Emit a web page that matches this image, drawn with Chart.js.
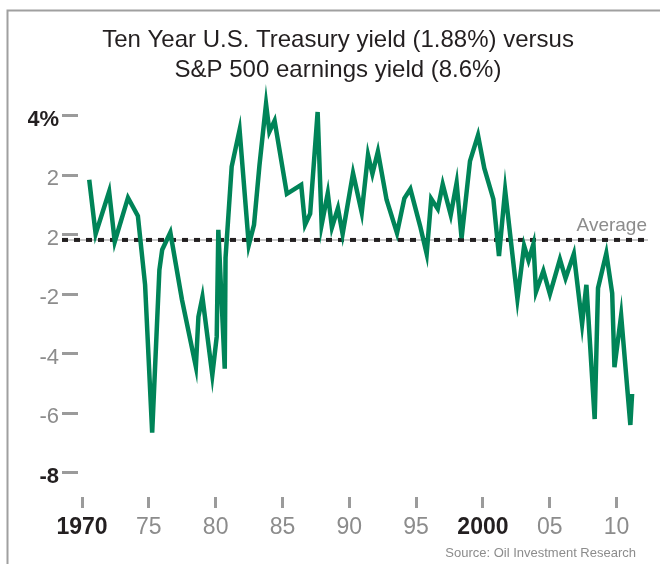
<!DOCTYPE html>
<html>
<head>
<meta charset="utf-8">
<script src="https://cdn.jsdelivr.net/npm/chart.js@4"></script>
<style>
  body { margin: 0; background: #fff; }
  #wrap { width: 660px; height: 564px; }
</style>
</head>
<body>
<div id="wrap"><canvas id="spreadCanvas" width="660" height="564"></canvas></div>
<script>
// earnings yield minus treasury yield
const years = [
  1970.54, 1971.02, 1972.03, 1972.45, 1973.44, 1974.18, 1974.72, 1975.25, 1975.79, 1976.00,
  1976.61, 1977.48, 1978.52, 1978.71, 1979.01, 1979.75, 1980.08, 1980.20, 1980.68, 1980.74,
  1981.20, 1981.79, 1982.48, 1982.87, 1983.28, 1983.77, 1984.02, 1984.41, 1985.33, 1986.40,
  1986.69, 1987.07, 1987.63, 1987.93, 1988.39, 1988.70, 1989.15, 1989.50, 1990.28, 1990.93,
  1991.40, 1991.73, 1992.14, 1992.79, 1993.57, 1994.12, 1994.57, 1995.31, 1995.79, 1996.13,
  1996.62, 1996.99, 1997.59, 1998.03, 1998.40, 1999.03, 1999.63, 2000.10, 2000.78, 2001.20,
  2001.66, 2002.58, 2003.08, 2003.41, 2003.78, 2003.97, 2004.52, 2005.01, 2005.76, 2006.18,
  2006.80, 2007.42, 2007.74, 2008.36, 2008.61, 2009.23, 2009.67, 2009.84, 2010.34, 2011.03,
  2011.16
];
const spread = [
  1.85, 0.03, 1.46, -0.23, 1.25, 0.64, -1.68, -6.65, -1.18, -0.50,
  0.08, -2.18, -4.43, -2.75, -2.09, -4.71, -3.42, 0.17, -4.50, -0.77,
  2.30, 3.53, -0.34, 0.34, 2.35, 4.40, 3.47, 3.84, 1.38, 1.68,
  0.34, 0.71, 4.13, 0.34, 1.40, 0.25, 0.90, 0.03, 2.07, 0.75,
  2.69, 2.05, 2.80, 1.18, 0.06, 1.23, 1.54, 0.28, -0.64, 1.21,
  0.87, 1.70, 0.67, 1.75, -0.11, 2.48, 3.35, 2.24, 1.20, -0.71,
  1.50, -2.15, -0.37, -0.86, -0.30, -1.91, -1.21, -1.99, -0.82, -1.46,
  -0.64, -2.99, -1.68, -6.19, -1.79, -0.62, -1.96, -4.45, -2.71, -6.39,
  -5.34
];
const averageValue = -0.17;

const xTicks = [1970, 1975, 1980, 1985, 1990, 1995, 2000, 2005, 2010];
const xLabels = ['1970', '75', '80', '85', '90', '95', '2000', '05', '10'];
const boldX = ['1970', '2000'];

const yTicks = [-8, -6, -4, -2, 0, 2, 4];
const yLabels = ['-8', '-6', '-4', '-2', '2', '2', '4%'];
const boldY = ['-8', '4%'];

const FONT = '"Liberation Sans", Arial, Helvetica, sans-serif';
const GREEN = 'rgb(0, 132, 88)';
const TICK_GREY = '#9b9b9b';
const LABEL_GREY = '#8c8c8c';
const DARK = '#231f20';

const extras = {
  id: 'extras',
  beforeDatasetsDraw(chart) {
    const ctx = chart.ctx;
    const y = chart.scales.y.getPixelForValue(averageValue);
    const left = chart.chartArea.left - 16;
    const right = chart.chartArea.right;
    ctx.save();
    ctx.strokeStyle = '#b5b5b5';
    ctx.lineWidth = 1.5;
    ctx.beginPath();
    ctx.moveTo(left, y);
    ctx.lineTo(right, y);
    ctx.stroke();
    ctx.strokeStyle = DARK;
    ctx.lineWidth = 4;
    ctx.setLineDash([6, 6]);
    ctx.beginPath();
    ctx.moveTo(left, y);
    ctx.lineTo(right, y);
    ctx.stroke();
    ctx.setLineDash([]);
    ctx.fillStyle = LABEL_GREY;
    ctx.font = '19px ' + FONT;
    ctx.textAlign = 'right';
    ctx.textBaseline = 'alphabetic';
    ctx.fillText('Average', right - 1, y - 9);
    ctx.restore();
  },
  afterDraw(chart) {
    const ctx = chart.ctx;
    ctx.save();
    // frame at top and left
    ctx.strokeStyle = '#a0a0a0';
    ctx.lineWidth = 2;
    ctx.beginPath();
    ctx.moveTo(660, 10.5);
    ctx.lineTo(7.5, 10.5);
    ctx.lineTo(7.5, 564);
    ctx.stroke();
    ctx.fillStyle = LABEL_GREY;
    ctx.font = '13px ' + FONT;
    ctx.textAlign = 'right';
    ctx.textBaseline = 'middle';
    ctx.fillText('Source: Oil Investment Research', 636, 553);
    ctx.restore();
  }
};

const data = {
  datasets: [{
    label: 'Spread',
    data: years.map((yr, i) => ({ x: yr, y: spread[i] })),
    borderColor: GREEN,
    backgroundColor: GREEN,
    borderWidth: 4.5,
    pointRadius: 0,
    tension: 0,
    clip: false
  }]
};

const chartConfig = {
  type: 'line',
  data,
  options: {
    responsive: false,
    animation: false,
    devicePixelRatio: 1,
    layout: { padding: { left: 28, right: 12, top: 0, bottom: 0 } },
    plugins: {
      legend: { display: false },
      tooltip: { enabled: false },
      title: {
        display: true,
        text: ['Ten Year U.S. Treasury yield (1.88%) versus', 'S&P 500 earnings yield (8.6%)'],
        color: DARK,
        font: { family: FONT, size: 24, weight: 'normal', lineHeight: 1.25 },
        padding: { top: 25, bottom: 16 }
      }
    },
    scales: {
      x: {
        type: 'linear',
        min: 1969.7,
        max: 2012.35,
        afterBuildTicks: (scale) => { scale.ticks = xTicks.map(v => ({ value: v })); },
        afterFit: (scale) => { scale.height = 67; },
        border: { display: false },
        grid: {
          drawOnChartArea: false,
          drawTicks: true,
          tickLength: 11,
          tickWidth: 3,
          tickColor: TICK_GREY
        },
        ticks: {
          padding: 6,
          autoSkip: false,
          maxRotation: 0,
          callback: (value, index) => xLabels[index],
          color: (c) => boldX.includes(xLabels[c.index]) ? DARK : LABEL_GREY,
          font: (c) => ({
            family: FONT,
            size: 23,
            weight: boldX.includes(xLabels[c.index]) ? 'bold' : 'normal'
          })
        }
      },
      y: {
        min: -8.81,
        max: 4.5,
        afterBuildTicks: (scale) => { scale.ticks = yTicks.map(v => ({ value: v })); },
        afterFit: (scale) => { scale.width = 50; },
        border: { display: false },
        grid: {
          drawOnChartArea: false,
          drawTicks: true,
          tickLength: 16,
          tickWidth: 3,
          tickColor: TICK_GREY
        },
        ticks: {
          padding: 3,
          labelOffset: 4,
          autoSkip: false,
          callback: (value, index) => yLabels[index],
          color: (c) => boldY.includes(yLabels[c.index]) ? DARK : LABEL_GREY,
          font: (c) => ({
            family: FONT,
            size: 22,
            weight: boldY.includes(yLabels[c.index]) ? 'bold' : 'normal'
          })
        }
      }
    }
  },
  plugins: [extras]
};

const spreadChart = new Chart(document.getElementById('spreadCanvas'), chartConfig);
</script>
</body>
</html>
